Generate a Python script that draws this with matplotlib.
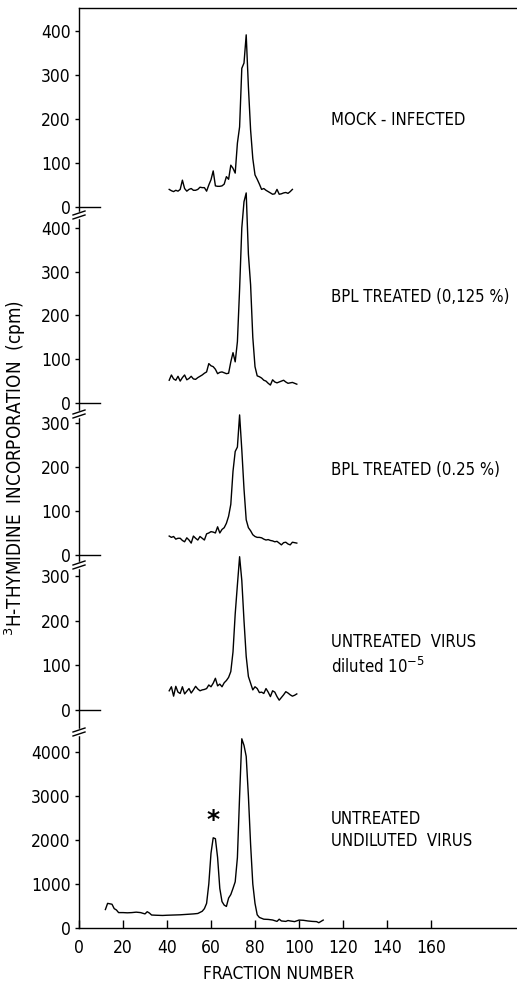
import numpy as np
import matplotlib
matplotlib.use("Agg")
import matplotlib.pyplot as plt
from matplotlib.lines import Line2D
from matplotlib import font_manager

# --- data (fraction number, cpm) ---
mock_frac = list(range(41, 98))
mock_cpm = [40, 37, 35, 38, 36, 40, 61, 42, 36, 40, 42, 38, 38, 40, 45, 44, 44, 36, 50, 62,
            82, 48, 47, 47, 48, 52, 69, 63, 95, 88, 77, 145, 182, 315, 327, 391, 273, 175, 110, 73,
            63, 52, 40, 42, 38, 35, 32, 29, 30, 40, 29, 30, 32, 33, 31, 35, 40]

bpl125_frac = list(range(41, 100))
bpl125_cpm = [52, 64, 55, 52, 61, 50, 58, 64, 53, 56, 61, 55, 54, 58, 61, 64, 68, 71, 90, 85,
              83, 77, 67, 70, 71, 69, 67, 68, 94, 115, 94, 140, 260, 400, 460, 480, 340, 270, 150, 83,
              62, 60, 57, 52, 50, 45, 41, 53, 48, 46, 48, 50, 52, 48, 45, 46, 47, 45, 43]

bpl25_frac = list(range(41, 100))
bpl25_cpm = [43, 40, 42, 36, 38, 38, 33, 30, 39, 34, 27, 43, 38, 34, 42, 38, 34, 48, 50, 53,
             52, 50, 64, 50, 58, 62, 72, 88, 115, 190, 235, 245, 318, 239, 150, 80, 62, 55, 46, 42,
             40, 40, 39, 36, 34, 35, 33, 32, 30, 31, 27, 23, 28, 29, 25, 23, 29, 28, 27]

dil_frac = list(range(41, 100))
dil_cpm = [43, 52, 31, 53, 40, 37, 52, 36, 42, 48, 38, 45, 53, 47, 43, 45, 46, 48, 56, 52,
           60, 71, 54, 58, 52, 61, 66, 73, 86, 130, 215, 280, 343, 290, 200, 120, 75, 60, 45, 52,
           48, 39, 40, 37, 48, 40, 30, 43, 40, 30, 22, 28, 34, 41, 38, 34, 31, 33, 36]

undil_frac = [12, 13, 14, 15, 16, 17, 18, 20, 22, 24, 26, 28, 29, 30, 31, 32, 33, 35, 38, 40,
              43, 46, 49, 52, 54, 56, 57, 58, 59, 60, 61, 62, 63, 64, 65, 66, 67, 68, 69, 70,
              71, 72, 73, 74, 75, 76, 77, 78, 79, 80, 81, 82, 84, 86, 88, 90, 91, 92, 94, 95,
              96, 98, 100, 102, 104, 106, 108, 109, 110, 111]
undil_cpm = [420, 560, 550, 540, 440, 410, 350, 350, 345, 350, 360, 350, 335, 320, 370, 340, 295, 290, 285, 290,
             295, 300, 310, 320, 330, 380, 440, 560, 1000, 1700, 2050, 2030, 1600, 900, 600, 520, 490, 680, 760, 900,
             1050, 1600, 3000, 4300, 4150, 3900, 3000, 1900, 1000, 560, 300, 240, 200, 195, 182, 150, 200, 160, 150, 170,
             160, 145, 180, 175, 160, 150, 145, 120, 150, 180]

labels = ['MOCK - INFECTED', 'BPL TREATED (0,125 %)', 'BPL TREATED (0.25 %)',
          'UNTREATED  VIRUS\ndiluted 10$^{-5}$', 'UNTREATED\nUNDILUTED  VIRUS']
label_ypix = [120, 297, 470, 655, 830]
x_ticks = [0, 20, 40, 60, 80, 100, 120, 140, 160]

series = [(mock_frac, mock_cpm), (bpl125_frac, bpl125_cpm), (bpl25_frac, bpl25_cpm),
          (dil_frac, dil_cpm), (undil_frac, undil_cpm)]
yticks = [[0, 100, 200, 300, 400], [0, 100, 200, 300, 400], [0, 100, 200, 300],
          [0, 100, 200, 300], [0, 1000, 2000, 3000, 4000]]


def pick_condensed():
    # look for a narrow sans face, the original lettering is condensed
    best = None
    for f in font_manager.fontManager.ttflist:
        s = (str(f.stretch) + ' ' + f.name + ' ' + f.fname).lower()
        if not ('condensed' in s or 'narrow' in s):
            continue
        if 'semicondensed' in s or 'semi' in s or 'extra' in s or 'ultra' in s:
            continue
        if 'serif' in s.replace('sans', '') or 'mono' in s:
            continue
        if f.style != 'normal':
            continue
        w = f.weight if isinstance(f.weight, int) else {'normal': 400, 'regular': 400}.get(f.weight, 700)
        score = abs(w - 400)
        for k, nm in enumerate(['liberation', 'dejavu', 'roboto', 'noto sans', 'open sans']):
            if nm in s:
                score += k * 1000
                break
        else:
            score += 9000
        if best is None or score < best[0]:
            best = (score, f.fname)
    return best[1] if best else None


fpath = pick_condensed()


def fp(size):
    if fpath:
        return font_manager.FontProperties(fname=fpath, size=size)
    return font_manager.FontProperties(family='Liberation Sans', size=size)


# panel geometry in pixels: top, bottom, y-limits
W, H = 517, 985
panels = [(8, 213, (-13.6, 452)), (217, 411, (-18.3, 425)), (418, 562, (-15.9, 311)),
          (567, 729, (-42.5, 320)), (735, 928, (0, 4386))]

fig = plt.figure(figsize=(W / 100, H / 100), dpi=100)
x0 = 79
xmax = (W - x0) / 2.2
tick_size = 12.5 if fpath else 11

axes = []
for i, ((top, bot, ylim), (fx, fy)) in enumerate(zip(panels, series)):
    ax = fig.add_axes([x0 / W, 1 - bot / H, (W - x0) / W, (bot - top) / H])
    ax.set_xlim(0, xmax)
    ax.set_ylim(*ylim)
    ax.patch.set_alpha(0)
    ax.plot(fx, fy, color='black', lw=1.0, clip_on=False, zorder=3)
    for s in ['right', 'top', 'bottom']:
        ax.spines[s].set_visible(False)
    ax.spines['left'].set_linewidth(1.0)
    ax.set_yticks(yticks[i])
    ax.tick_params(axis='y', direction='out', length=3, width=1, pad=3)
    for t in ax.get_yticklabels():
        t.set_fontproperties(fp(tick_size))
    if i < 4:
        ax.set_xticks([])
        ax.axhline(0, xmin=0, xmax=21 / (W - x0), color='black', lw=1.0)
    else:
        ax.spines['bottom'].set_visible(True)
        ax.spines['bottom'].set_linewidth(1.0)
        ax.set_xticks(x_ticks)
        ax.tick_params(axis='x', direction='in', length=6, width=1, pad=8)
        for t in ax.get_xticklabels():
            t.set_fontproperties(fp(tick_size))
        ax.set_xlabel('FRACTION NUMBER', fontproperties=fp(tick_size))
        ax.xaxis.set_label_coords((279 - x0) / (W - x0), -0.19)
        ax.text(61, 2450, '*', fontsize=18, fontweight='bold', ha='center', va='center',
                family='DejaVu Sans')
    if i == 0:
        ax.spines['top'].set_visible(True)
        ax.spines['top'].set_linewidth(1.0)
    axes.append(ax)

# condition labels
for lab, ypix in zip(labels, label_ypix):
    fig.text(331 / W, 1 - ypix / H, lab, fontproperties=fp(12 if fpath else 10.5),
             va='center', ha='left', linespacing=1.35)

# axis breaks on the y-axis
for yb in [215, 414, 565, 732]:
    fig.add_artist(Line2D([x0 / W, x0 / W], [1 - (yb - 2) / H, 1 - (yb + 2) / H],
                          color='white', lw=2.5))
    for dy in (-2, 2):
        fig.add_artist(Line2D([(x0 - 6) / W, (x0 + 6) / W],
                              [1 - (yb + dy + 2) / H, 1 - (yb + dy - 2) / H],
                              color='black', lw=1.0))

fig.text(15 / W, 1 - 468 / H, '$^{3}$H-THYMIDINE  INCORPORATION  (cpm)', rotation=90,
         fontproperties=fp(13.5 if fpath else 11), va='center', ha='center')

fig.savefig('out.png', dpi=100)
